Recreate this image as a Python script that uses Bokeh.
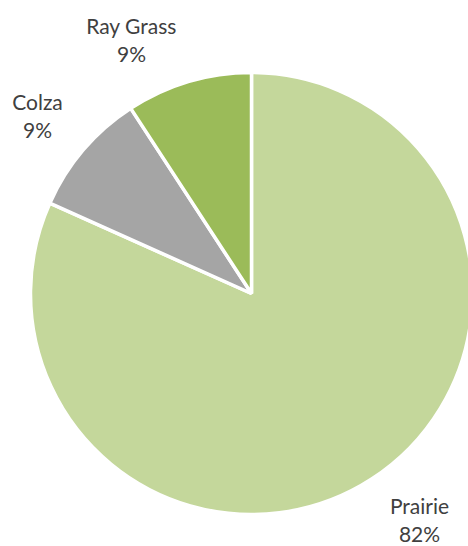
import math
from bokeh.plotting import figure
from bokeh.models import ColumnDataSource
from bokeh.core.properties import value
from bokeh.embed import file_html
from bokeh.resources import INLINE

# Data
categories = ["Prairie", "Colza", "Ray Grass"]
shares = [81.7, 9.1, 9.2]
colors = ["#C4D79B", "#A5A5A5", "#9BBB59"]

W, H = 468, 546
p = figure(width=W, height=H, x_range=(0, W), y_range=(0, H),
           output_backend="svg", toolbar_location=None,
           min_border=0, min_border_left=0, min_border_right=0,
           min_border_top=0, min_border_bottom=0)
p.axis.visible = False
p.grid.visible = False
p.outline_line_color = None
p.background_fill_color = "white"
p.border_fill_color = "white"

cx, cy, r = 251, H - 293, 221
total = sum(shares)
starts, ends = [], []
acc = 0.0
for s in shares:
    starts.append(math.pi / 2 - 2 * math.pi * acc / total)
    acc += s
    ends.append(math.pi / 2 - 2 * math.pi * acc / total)

src = ColumnDataSource(dict(cat=categories, start=starts, end=ends, color=colors))
p.wedge(x=cx, y=cy, radius=r, start_angle="start", end_angle="end",
        direction="clock", fill_color="color", line_color="white",
        line_width=3.5, source=src)

# label anchor positions (layout)
label_xy = {"Prairie": (419, 505), "Colza": (37, 101), "Ray Grass": (131, 25)}
names_x = [label_xy[c][0] for c in categories]
names_y = [H - label_xy[c][1] for c in categories]
pct_y = [H - label_xy[c][1] - 28 for c in categories]
pct = [f"{round(100 * s / total)}%" for s in shares]

font = value("Lato")
p.text(x=names_x, y=names_y, text=categories, text_font=font,
       text_font_size="21px", text_color="#404040",
       text_align="center", text_baseline="middle")
p.text(x=names_x, y=pct_y, text=pct, text_font=font,
       text_font_size="21px", text_color="#404040",
       text_align="center", text_baseline="middle")

open("out.html", "w").write(file_html(p, INLINE))
